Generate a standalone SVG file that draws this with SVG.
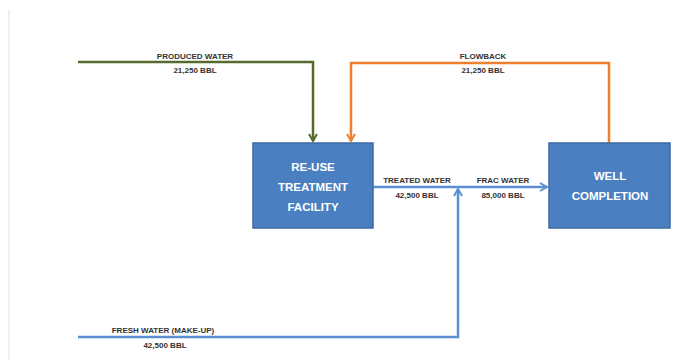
<svg xmlns="http://www.w3.org/2000/svg" width="692" height="360" viewBox="0 0 692 360">
<style>
.lbl{font-family:"Liberation Sans",Arial,sans-serif;font-weight:bold;font-size:8px;fill:#333;text-anchor:middle}
.box{fill:#4a7fc1;stroke:#3d6aa3;stroke-width:1.5}
.bt{font-family:"Liberation Sans",Arial,sans-serif;font-weight:bold;font-size:11.5px;fill:#fff;text-anchor:middle}
.ln{fill:none;stroke-width:2.5;stroke-linejoin:miter}
</style>
<defs>
<marker id="ag" viewBox="0 0 10 10" refX="8" refY="5" markerWidth="4" markerHeight="4" orient="auto" markerUnits="strokeWidth"><path d="M1,1 L8,5 L1,9" fill="none" stroke="#56692f" stroke-width="2"/></marker>
<marker id="ao" viewBox="0 0 10 10" refX="8" refY="5" markerWidth="4" markerHeight="4" orient="auto" markerUnits="strokeWidth"><path d="M1,1 L8,5 L1,9" fill="none" stroke="#ee8030" stroke-width="2"/></marker>
<marker id="ab" viewBox="0 0 10 10" refX="8" refY="5" markerWidth="4" markerHeight="4" orient="auto" markerUnits="strokeWidth"><path d="M1,1 L8,5 L1,9" fill="none" stroke="#5a8fd2" stroke-width="2"/></marker>
</defs>
<line x1="9" y1="10" x2="9" y2="360" stroke="#e2e2e2" stroke-width="1"/>
<g id="connectors">
<path class="ln" d="M78,62 H313 V141" stroke="#56692f" marker-end="url(#ag)"/>
<path class="ln" d="M609,143 V63 H351 V141" stroke="#ee8030" marker-end="url(#ao)"/>
<path class="ln" d="M373,187 H547" stroke="#5a8fd2" marker-end="url(#ab)"/>
<path class="ln" d="M78,337 H458 V189" stroke="#5a8fd2" marker-end="url(#ab)"/>
<text class="lbl" x="195" y="59">PRODUCED WATER</text>
<text class="lbl" x="195" y="73">21,250 BBL</text>
<text class="lbl" x="483" y="59">FLOWBACK</text>
<text class="lbl" x="483" y="73">21,250 BBL</text>
<text class="lbl" x="417" y="183">TREATED WATER</text>
<text class="lbl" x="417" y="198">42,500 BBL</text>
<text class="lbl" x="503" y="183">FRAC WATER</text>
<text class="lbl" x="503" y="198">85,000 BBL</text>
<text class="lbl" x="163" y="333">FRESH WATER (MAKE-UP)</text>
<text class="lbl" x="165" y="348">42,500 BBL</text>
</g>
<g id="reuse">
<rect class="box" x="253" y="143" width="120" height="85"/>
<text class="bt" x="313" y="171">RE-USE</text>
<text class="bt" x="313" y="191">TREATMENT</text>
<text class="bt" x="313" y="211">FACILITY</text>
</g>
<g id="well">
<rect class="box" x="549" y="143" width="121" height="85"/>
<text class="bt" x="610" y="180">WELL</text>
<text class="bt" x="610" y="200">COMPLETION</text>
</g>
</svg>
